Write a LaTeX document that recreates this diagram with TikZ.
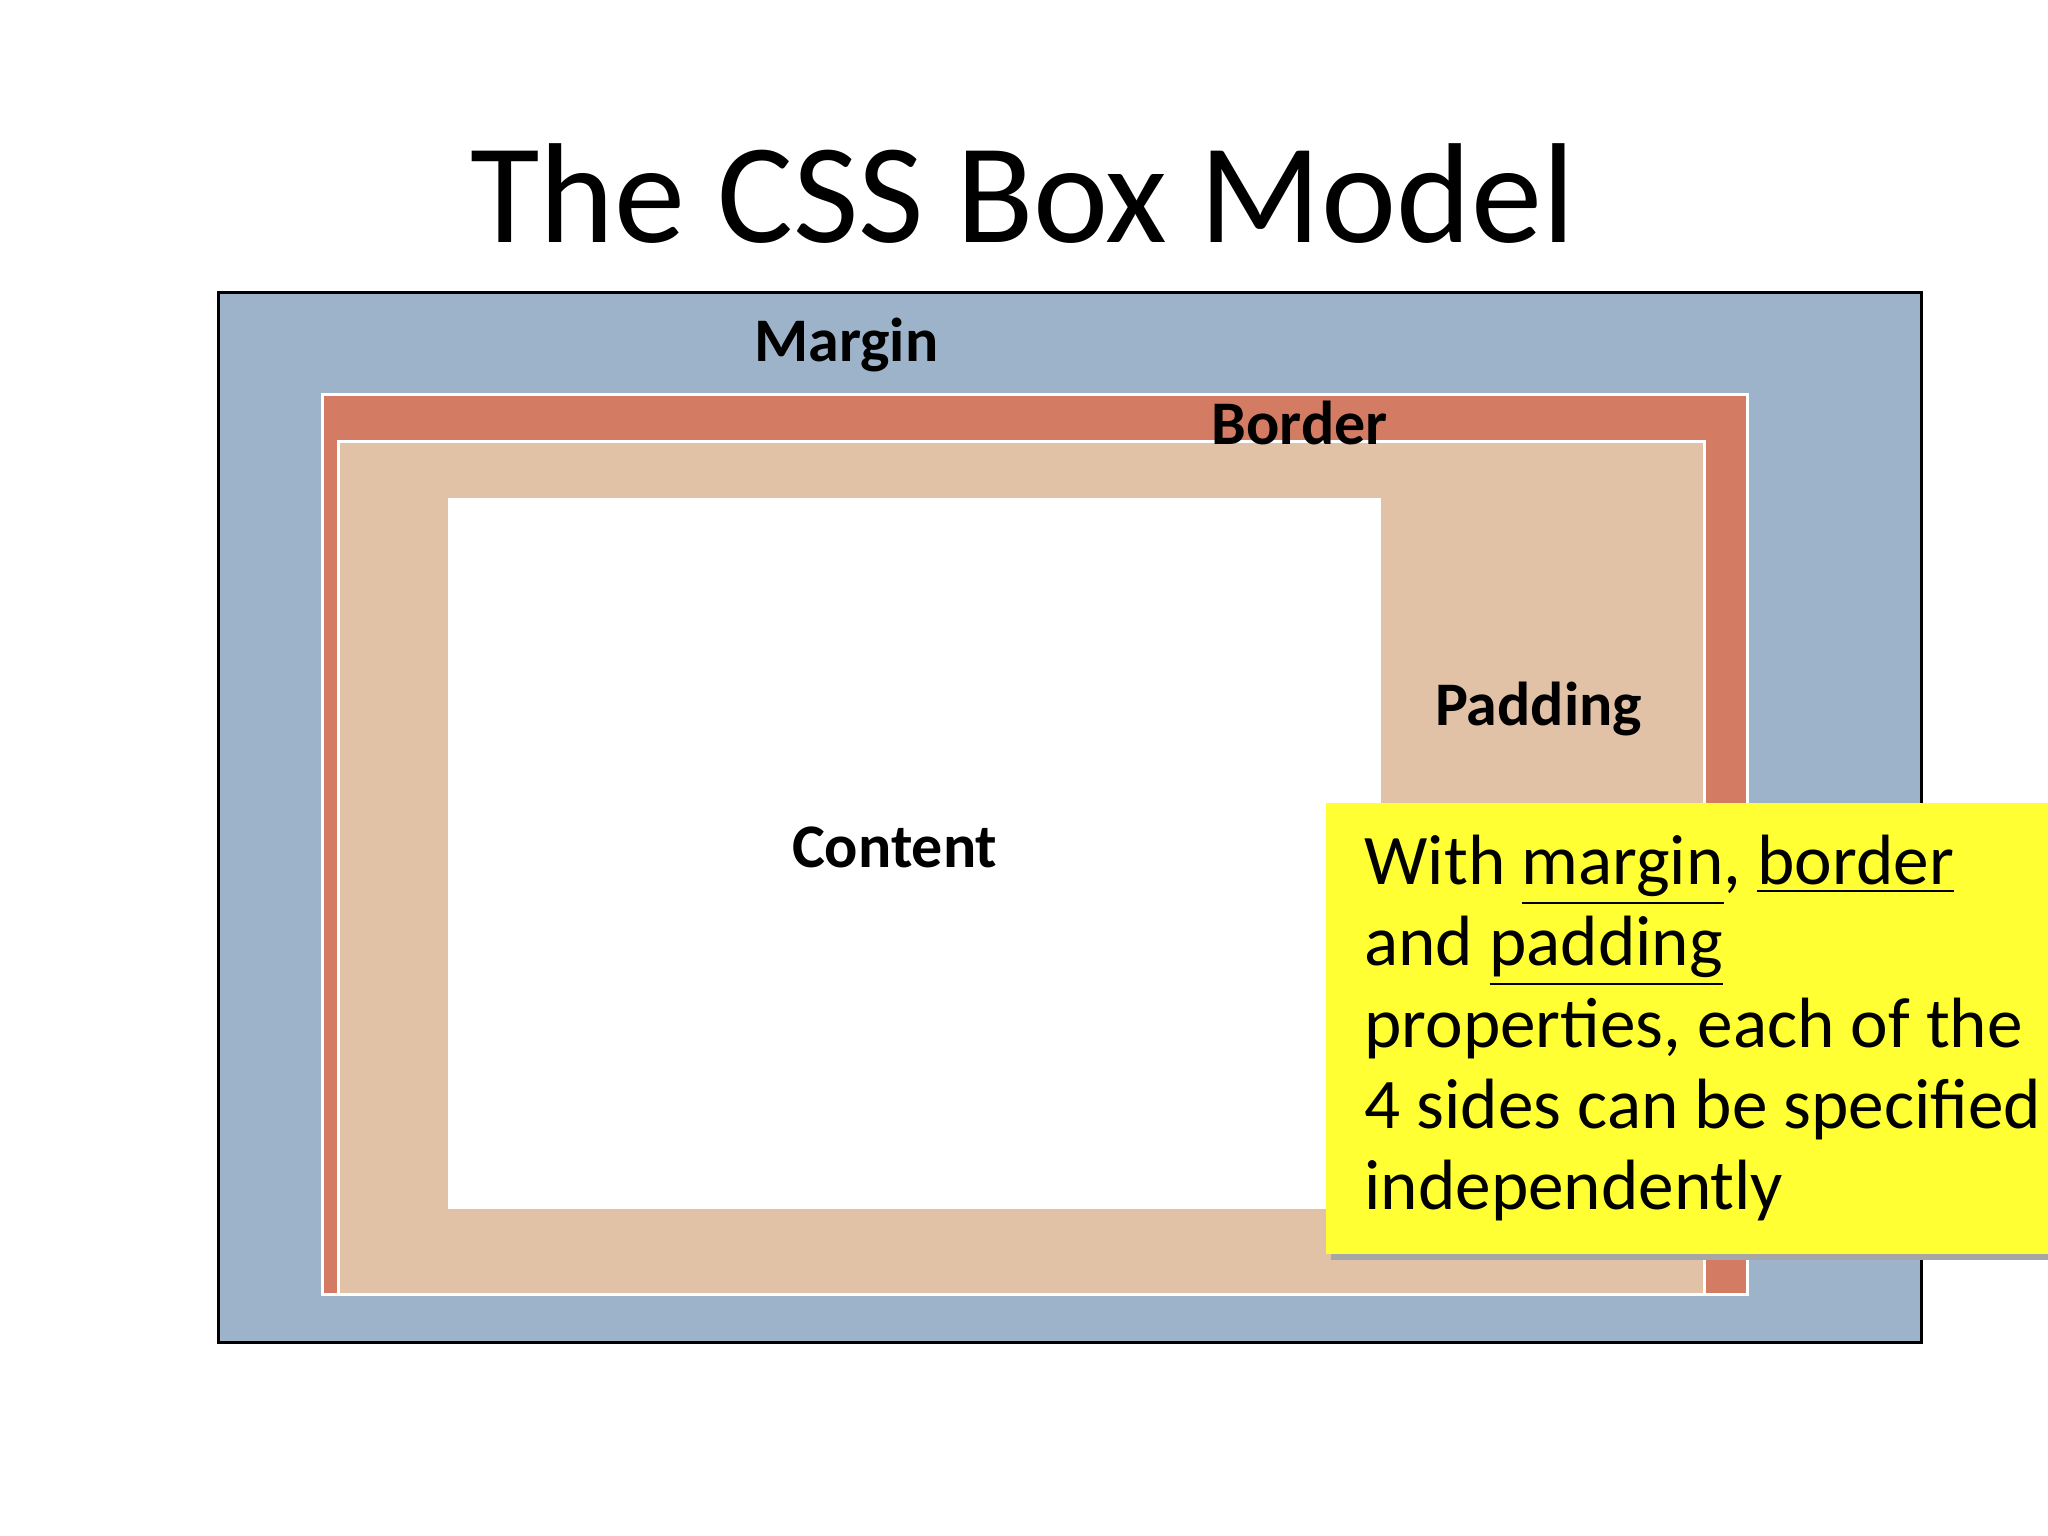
\documentclass[tikz,border=0pt]{standalone}
\usepackage{fontspec}
\setmainfont{Carlito}
\definecolor{marg}{HTML}{9DB3CA}
\definecolor{bord}{HTML}{D47B63}
\definecolor{padd}{HTML}{E2C2A6}
\definecolor{note}{HTML}{FFFF33}
\begin{document}
\begin{tikzpicture}[x=0.01cm,y=-0.01cm,
  lbl/.style={font=\fontsize{13.5}{16}\selectfont\bfseries,inner sep=0},
  txt/.style={font=\fontsize{15.5}{17.6}\selectfont,anchor=base west,inner sep=0}]
\useasboundingbox (0,0) rectangle (1568,1176);
\fill[white] (0,0) rectangle (1568,1176);
\node[font=\fontsize{31}{36}\selectfont,inner sep=0] (title) at (783,148) {The CSS Box Model};
\draw[fill=marg,draw=black,line width=0.6pt] (167,224) rectangle (1471,1028);
\draw[fill=bord,draw=white,line width=0.6pt] (247,302) rectangle (1338,991);
\draw[fill=padd,draw=white,line width=0.6pt] (259,338) rectangle (1305,991);
\fill[white] (343,381) rectangle (1057,926);
\node[lbl] (m) at (648,264) {Margin};
\node[lbl] (b) at (995,324) {Border};
\node[lbl] (p) at (1178,543) {Padding};
\node[lbl] (c) at (685,649) {Content};
\fill[gray!70] (1019,615) rectangle (1568,965);
\fill[note] (1015,615) rectangle (1568,960);
\node[txt] (l1) at (1044,677) {With \underline{margin}, \underline{border}};
\node[txt] (l2) at (1044,739) {and \underline{padding}};
\node[txt] (l3) at (1044,802) {properties, each of the};
\node[txt] (l4) at (1044,864) {4 sides can be specified};
\node[txt] (l5) at (1044,926) {independently};
\end{tikzpicture}
\end{document}
